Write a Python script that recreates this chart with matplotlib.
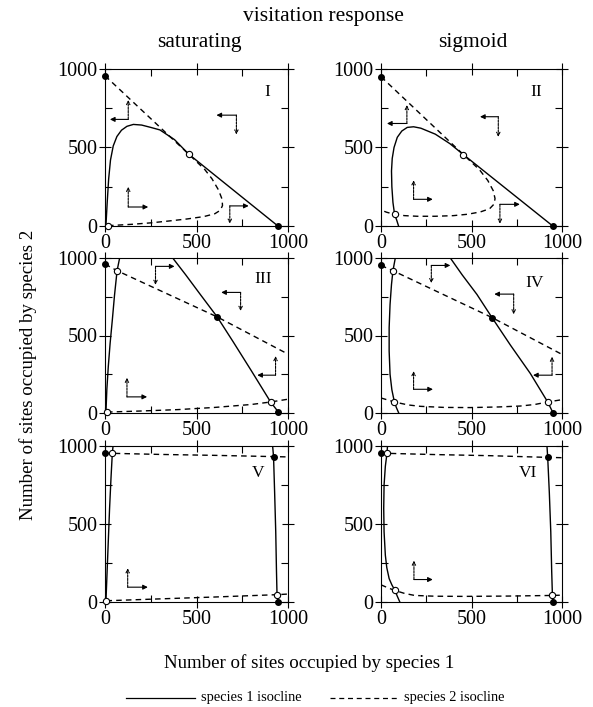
import matplotlib
matplotlib.use('Agg')
import matplotlib.pyplot as plt
from matplotlib.lines import Line2D
from matplotlib.ticker import MultipleLocator

plt.rcParams['font.family'] = ['Liberation Serif', 'DejaVu Serif']

# ---- data (sites occupied, 0..1000) ----
# panel I  (saturating)
I_sp1_x = [5, 12, 20, 30, 45, 65, 90, 120, 155, 200, 250, 300, 380, 458, 945]
I_sp1_y = [0, 150, 300, 420, 510, 570, 610, 635, 647, 643, 628, 612, 550, 457, 0]
I_sp2_x = [0, 458, 545, 585, 620, 640, 642, 630, 600, 540, 450, 350, 250, 150, 60, 15]
I_sp2_y = [957, 457, 360, 300, 230, 170, 130, 100, 78, 60, 45, 32, 20, 11, 5, 2]
I_stable_x = [0, 945]
I_stable_y = [957, 0]
I_unstable_x = [458, 15]
I_unstable_y = [457, 2]
I_arrows = [(127, 679, 27, 802), (718, 706, 609, 583),
            (127, 121, 236, 249), (682, 128, 785, 15)]

# panel II (sigmoid)
II_sp1_x = [97, 86, 75, 66, 60, 58, 62, 72, 90, 115, 145, 180, 220, 300, 380, 455, 949]
II_sp1_y = [0, 40, 74, 150, 250, 350, 430, 500, 565, 605, 628, 632, 623, 585, 525, 455, 0]
II_sp2_x = [0, 455, 545, 590, 620, 630, 625, 600, 550, 480, 400, 300, 200, 130, 75, 30, 0]
II_sp2_y = [951, 455, 357, 290, 225, 175, 140, 110, 90, 75, 66, 62, 62, 66, 74, 88, 102]
II_stable_x = [0, 949]
II_stable_y = [951, 0]
II_unstable_x = [455, 75]
II_unstable_y = [455, 74]
II_arrows = [(143, 653, 33, 770), (648, 696, 547, 568),
             (180, 170, 286, 291), (657, 138, 767, 15)]

# panel III (saturating)
III_sp1a_x = [5, 10, 18, 28, 40, 52, 66, 80]
III_sp1a_y = [0, 150, 300, 450, 600, 760, 918, 1000]
III_sp1b_x = [370, 440, 520, 613, 700, 800, 905, 948]
III_sp1b_y = [1000, 893, 766, 620, 460, 272, 71, 5]
III_sp2a_x = [0, 66, 613, 1000]
III_sp2a_y = [961, 918, 620, 380]
III_sp2b_x = [11, 200, 400, 600, 800, 905, 1000]
III_sp2b_y = [6, 13, 22, 36, 55, 71, 89]
III_stable_x = [0, 613, 948]
III_stable_y = [961, 620, 5]
III_unstable_x = [66, 905, 11]
III_unstable_y = [918, 71, 6]
III_arrows = [(276, 946, 380, 827), (741, 778, 635, 659),
              (932, 244, 832, 367), (120, 104, 230, 227)]

# panel IV (sigmoid)
IV_sp1a_x = [98, 85, 74, 60, 50, 45, 45, 50, 58, 66, 79]
IV_sp1a_y = [0, 35, 71, 150, 250, 400, 550, 700, 830, 918, 1000]
IV_sp1b_x = [383, 448, 530, 613, 715, 825, 921, 950]
IV_sp1b_y = [1000, 892, 765, 616, 438, 255, 71, 2]
IV_sp2a_x = [0, 66, 613, 1000]
IV_sp2a_y = [952, 918, 616, 378]
IV_sp2b_x = [0, 74, 150, 217, 350, 494, 650, 770, 850, 921, 1000]
IV_sp2b_y = [97, 71, 52, 43, 36, 35, 39, 45, 55, 71, 86]
IV_stable_x = [0, 613, 950]
IV_stable_y = [952, 616, 2]
IV_unstable_x = [66, 74, 921]
IV_unstable_y = [918, 71, 71]
IV_arrows = [(278, 952, 383, 838), (733, 767, 626, 637),
             (945, 244, 840, 363), (180, 153, 287, 270)]

# panel V (saturating)
V_sp1a_x = [5, 15, 25, 33, 40, 44]
V_sp1a_y = [0, 300, 600, 800, 953, 1000]
V_sp1b_x = [916, 921, 927, 933, 937, 940, 945]
V_sp1b_y = [1000, 932, 700, 450, 200, 47, 0]
V_sp2a_x = [0, 40, 300, 600, 921, 1000]
V_sp2a_y = [953, 953, 946, 940, 932, 930]
V_sp2b_x = [8, 300, 600, 940, 1000]
V_sp2b_y = [8, 20, 32, 47, 51]
V_stable_x = [0, 921, 948]
V_stable_y = [953, 932, 2]
V_unstable_x = [40, 940, 8]
V_unstable_y = [953, 47, 8]
V_arrows = [(124, 95, 234, 216)]

# panel VI (sigmoid)
VI_sp1a_x = [104, 90, 77, 60, 45, 32, 24, 17, 15, 17, 24, 33, 36]
VI_sp1a_y = [0, 37, 74, 110, 150, 220, 300, 450, 600, 750, 870, 953, 1000]
VI_sp1b_x = [917, 921, 930, 938, 943, 947, 949]
VI_sp1b_y = [1000, 927, 700, 450, 200, 42, 0]
VI_sp2a_x = [0, 33, 300, 600, 921, 1000]
VI_sp2a_y = [953, 953, 945, 938, 927, 925]
VI_sp2b_x = [0, 40, 77, 130, 186, 300, 459, 700, 947, 1000]
VI_sp2b_y = [110, 90, 74, 55, 42, 37, 36, 38, 42, 44]
VI_stable_x = [0, 921, 949]
VI_stable_y = [953, 927, 0]
VI_unstable_x = [33, 77, 947]
VI_unstable_y = [953, 74, 42]
VI_arrows = [(182, 144, 286, 265)]

labels = ['I', 'II', 'III', 'IV', 'V', 'VI']
label_pos = [(885, 853), (857, 853), (863, 865), (848, 838), (836, 827), (813, 827)]

panels = [
    ([(I_sp1_x, I_sp1_y)], [(I_sp2_x, I_sp2_y)],
     (I_stable_x, I_stable_y), (I_unstable_x, I_unstable_y), I_arrows),
    ([(II_sp1_x, II_sp1_y)], [(II_sp2_x, II_sp2_y)],
     (II_stable_x, II_stable_y), (II_unstable_x, II_unstable_y), II_arrows),
    ([(III_sp1a_x, III_sp1a_y), (III_sp1b_x, III_sp1b_y)],
     [(III_sp2a_x, III_sp2a_y), (III_sp2b_x, III_sp2b_y)],
     (III_stable_x, III_stable_y), (III_unstable_x, III_unstable_y), III_arrows),
    ([(IV_sp1a_x, IV_sp1a_y), (IV_sp1b_x, IV_sp1b_y)],
     [(IV_sp2a_x, IV_sp2a_y), (IV_sp2b_x, IV_sp2b_y)],
     (IV_stable_x, IV_stable_y), (IV_unstable_x, IV_unstable_y), IV_arrows),
    ([(V_sp1a_x, V_sp1a_y), (V_sp1b_x, V_sp1b_y)],
     [(V_sp2a_x, V_sp2a_y), (V_sp2b_x, V_sp2b_y)],
     (V_stable_x, V_stable_y), (V_unstable_x, V_unstable_y), V_arrows),
    ([(VI_sp1a_x, VI_sp1a_y), (VI_sp1b_x, VI_sp1b_y)],
     [(VI_sp2a_x, VI_sp2a_y), (VI_sp2b_x, VI_sp2b_y)],
     (VI_stable_x, VI_stable_y), (VI_unstable_x, VI_unstable_y), VI_arrows),
]

W, H = 593, 707
DASH = (0, (4, 3))

def box(x0, y0, x1, y1):
    # pixel box -> figure fraction
    return [x0 / W, 1 - y1 / H, (x1 - x0) / W, (y1 - y0) / H]

cols = [(105, 288), (381, 562)]
rows = [(69, 226), (258, 413), (446, 602)]

fig = plt.figure(figsize=(W / 100, H / 100), dpi=100)

for i, (sp1, sp2, stable, unstable, arrows) in enumerate(panels):
    c = cols[i % 2]
    r = rows[i // 2]
    ax = fig.add_axes(box(c[0], r[0], c[1], r[1]))

    for xs, ys in sp1:
        ax.plot(xs, ys, color='k', lw=1.0)
    for xs, ys in sp2:
        ax.plot(xs, ys, color='k', lw=1.0, ls=DASH)

    ax.plot(stable[0], stable[1], 'o', ms=4, mfc='k', mec='k', clip_on=False, zorder=5)
    ax.plot(unstable[0], unstable[1], 'o', ms=4.5, mfc='white', mec='k', mew=0.8,
            clip_on=False, zorder=5)

    for cx, cy, hx, vy in arrows:
        ax.annotate('', xy=(hx, cy), xytext=(cx, cy),
                    arrowprops=dict(arrowstyle='-|>', color='k', lw=0.8,
                                    mutation_scale=7, shrinkA=0, shrinkB=0))
        ax.annotate('', xy=(cx, vy), xytext=(cx, cy),
                    arrowprops=dict(arrowstyle='->', color='k', lw=0.8, ls=(0, (2, 1)),
                                    mutation_scale=6, shrinkA=0, shrinkB=0))

    ax.text(label_pos[i][0], label_pos[i][1], labels[i], fontsize=12.5,
            ha='center', va='center')

    ax.set_xlim(0, 1000)
    ax.set_ylim(0, 1000)
    ax.set_xticks([0, 500, 1000])
    ax.set_yticks([0, 500, 1000])
    ax.xaxis.set_minor_locator(MultipleLocator(250))
    ax.yaxis.set_minor_locator(MultipleLocator(250))
    ax.tick_params(which='major', direction='inout', length=9, width=0.8,
                   top=True, right=True, labelsize=14.5, pad=1)
    ax.tick_params(which='minor', direction='in', length=5, width=0.8,
                   top=True, right=True)
    for s in ax.spines.values():
        s.set_linewidth(0.8)

fig.text(323 / W, 1 - 17 / H, 'visitation response', fontsize=15.5, ha='center', va='center')
fig.text(199 / W, 1 - 42 / H, 'saturating', fontsize=15.5, ha='center', va='center')
fig.text(473 / W, 1 - 42 / H, 'sigmoid', fontsize=15.5, ha='center', va='center')
fig.text(309 / W, 1 - 663 / H, 'Number of sites occupied by species 1', fontsize=13.6,
         ha='center', va='center')
fig.text(28 / W, 1 - 375 / H, 'Number of sites occupied by species 2', fontsize=13.6,
         ha='center', va='center', rotation=90)

# legend at the bottom
ly = 1 - 698 / H
fig.add_artist(Line2D([126 / W, 195 / W], [ly, ly], color='k', lw=0.9))
fig.text(201 / W, ly, 'species 1 isocline', fontsize=10.4, ha='left', va='center')
fig.add_artist(Line2D([330 / W, 398 / W], [ly, ly], color='k', lw=0.9, ls=DASH))
fig.text(404 / W, ly, 'species 2 isocline', fontsize=10.4, ha='left', va='center')

fig.savefig('out.png', dpi=100)
